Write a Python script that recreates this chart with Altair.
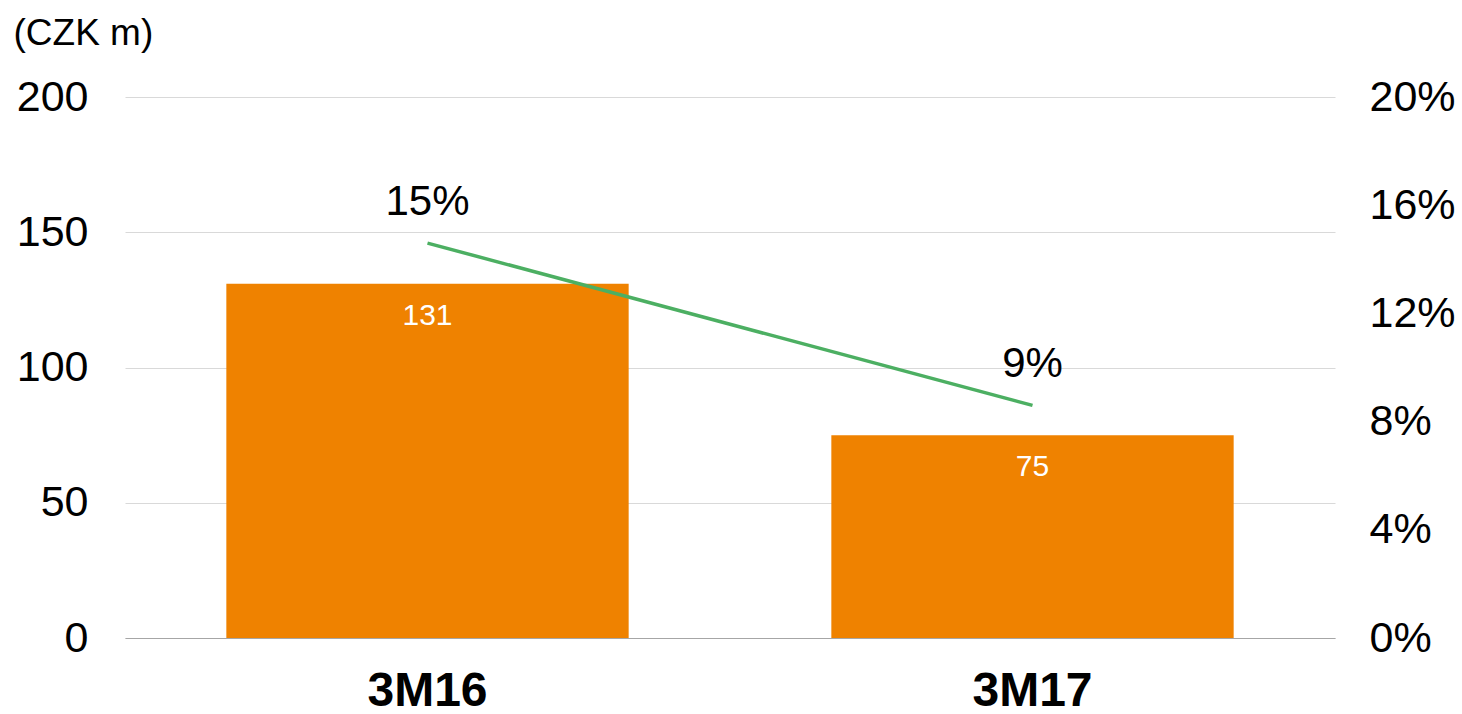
import altair as alt
import pandas as pd

# Quarterly figures
periods = ["3M16", "3M17"]
amounts = [131, 75]          # CZK m
margins = [0.146, 0.086]     # share, right axis

df = pd.DataFrame({"period": periods, "amount": amounts, "margin": margins})

FONT = "Liberation Sans"
ORANGE = "#EF8200"
GREEN = "#4CAF62"

x_enc = alt.X(
    "period:N",
    sort=periods,
    scale=alt.Scale(paddingInner=0.335, paddingOuter=0.1675),
    axis=alt.Axis(
        title=None,
        labelAngle=0,
        labelFont=FONT,
        labelFontSize=48,
        labelFontWeight="bold",
        labelColor="#000000",
        labelPadding=29,
        labelBaseline="top",
        ticks=False,
        domain=True,
        domainColor="#a6a6a6",
        domainWidth=1.2,
    ),
)

y_left = alt.Y(
    "amount:Q",
    scale=alt.Scale(domain=[0, 200], nice=False),
    axis=alt.Axis(
        values=[0, 50, 100, 150, 200],
        title="(CZK m)",
        titleAngle=0,
        titleX=-112,
        titleY=-64,
        titleAlign="left",
        titleBaseline="middle",
        titleFont=FONT,
        titleFontSize=37,
        titleFontWeight="normal",
        titleColor="#000000",
        labelFont=FONT,
        labelFontSize=43,
        labelColor="#000000",
        labelPadding=37,
        ticks=False,
        domain=False,
        grid=True,
        gridColor="#d9d9d9",
        gridWidth=1,
    ),
)

bars = alt.Chart(df).mark_bar(color=ORANGE).encode(x=x_enc, y=y_left)
bar_text = alt.Chart(df).mark_text(
    font=FONT, fontSize=30, color="#ffffff", baseline="middle", dy=32
).encode(x=x_enc, y="amount:Q", text="amount:Q")

y_right = alt.Y(
    "margin:Q",
    scale=alt.Scale(domain=[0, 0.2], nice=False),
    axis=alt.Axis(
        orient="right",
        values=[0, 0.04, 0.08, 0.12, 0.16, 0.2],
        format=".0%",
        title=None,
        labelFont=FONT,
        labelFontSize=43,
        labelColor="#000000",
        labelPadding=34,
        ticks=False,
        domain=False,
        grid=False,
    ),
)

line = alt.Chart(df).mark_line(color=GREEN, strokeWidth=3.5).encode(x=x_enc, y=y_right)
line_text = alt.Chart(df).mark_text(
    font=FONT, fontSize=42, color="#000000", baseline="middle", dy=-41
).encode(x=x_enc, y="margin:Q", text=alt.Text("margin:Q", format=".0%"))

left = alt.layer(bars, bar_text)
right = alt.layer(line, line_text)

chart = (
    alt.layer(left, right)
    .resolve_scale(y="independent")
    .properties(
        width=1210,
        height=541,
        autosize=alt.AutoSizeParams(type="none"),
        padding={"left": 125, "top": 97, "right": 127, "bottom": 76},
        background="#ffffff",
    )
    .configure_view(stroke=None)
)

chart.save("out.html", embed_options={"renderer": "svg", "actions": False})
